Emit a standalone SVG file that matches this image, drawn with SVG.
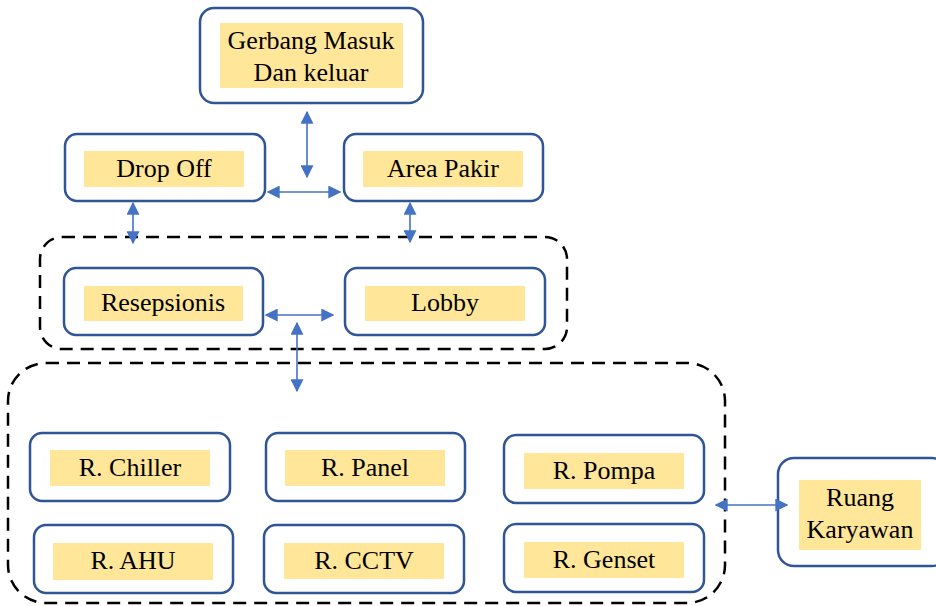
<svg xmlns="http://www.w3.org/2000/svg" width="936" height="606" viewBox="0 0 936 606">
<style>
.box{fill:#fff;stroke:#2F5597;stroke-width:2.5}
.lbl{fill:#FFE699}
.t{font-family:"Liberation Serif","Times New Roman",serif;font-size:26px;fill:#000;text-anchor:middle}
.grp{fill:none;stroke:#000;stroke-width:2.5;stroke-dasharray:13 8}
.c{stroke:#4472C4;stroke-width:1.6;fill:none;marker-start:url(#a);marker-end:url(#a)}
</style>
<defs>
<marker id="a" viewBox="0 0 10 10" refX="9" refY="5" markerWidth="13" markerHeight="13" orient="auto-start-reverse" markerUnits="userSpaceOnUse">
<path d="M0,0 L10,5 L0,10 z" fill="#4472C4"/>
</marker>
</defs>
<rect class="grp" x="40" y="237" width="527" height="112" rx="22"/>
<rect class="grp" x="8" y="363" width="717" height="240" rx="38"/>
<g id="gerbang"><rect class="box" x="200" y="8" width="223" height="95" rx="14"/><rect class="lbl" x="220" y="23" width="183" height="65"/><text class="t" x="311" y="49">Gerbang Masuk</text><text class="t" x="311" y="81">Dan keluar</text></g>
<g id="dropoff"><rect class="box" x="65" y="134" width="200" height="67" rx="12"/><rect class="lbl" x="84" y="151" width="160" height="36"/><text class="t" x="164" y="177">Drop Off</text></g>
<g id="areapakir"><rect class="box" x="344" y="134" width="199" height="67" rx="12"/><rect class="lbl" x="363" y="151" width="160" height="36"/><text class="t" x="443" y="177">Area Pakir</text></g>
<g id="resepsionis"><rect class="box" x="64" y="268" width="199" height="67" rx="12"/><rect class="lbl" x="84" y="286" width="159" height="35"/><text class="t" x="163" y="311">Resepsionis</text></g>
<g id="lobby"><rect class="box" x="345" y="268" width="200" height="67" rx="12"/><rect class="lbl" x="365" y="286" width="160" height="35"/><text class="t" x="445" y="311">Lobby</text></g>
<g id="chiller"><rect class="box" x="30" y="433" width="200" height="68" rx="12"/><rect class="lbl" x="50" y="450" width="160" height="36"/><text class="t" x="130" y="476">R. Chiller</text></g>
<g id="panel"><rect class="box" x="266" y="433" width="199" height="68" rx="12"/><rect class="lbl" x="285" y="450" width="160" height="36"/><text class="t" x="365" y="476">R. Panel</text></g>
<g id="pompa"><rect class="box" x="504" y="435" width="200" height="68" rx="12"/><rect class="lbl" x="524" y="453" width="160" height="36"/><text class="t" x="604" y="479">R. Pompa</text></g>
<g id="ahu"><rect class="box" x="34" y="525" width="199" height="68" rx="12"/><rect class="lbl" x="53" y="543" width="160" height="37"/><text class="t" x="133" y="569">R. AHU</text></g>
<g id="cctv"><rect class="box" x="264" y="525" width="200" height="68" rx="12"/><rect class="lbl" x="284" y="543" width="160" height="36"/><text class="t" x="364" y="569">R. CCTV</text></g>
<g id="genset"><rect class="box" x="504" y="524" width="200" height="68" rx="12"/><rect class="lbl" x="524" y="542" width="160" height="36"/><text class="t" x="604" y="568">R. Genset</text></g>
<g id="karyawan"><rect class="box" x="778" y="458" width="170" height="108" rx="16"/><rect class="lbl" x="799" y="480" width="122" height="70"/><text class="t" x="860" y="506">Ruang</text><text class="t" x="860" y="538">Karyawan</text></g>
<g id="connectors">
<line class="c" x1="307" y1="112" x2="307" y2="177"/>
<line class="c" x1="268" y1="192" x2="340" y2="192"/>
<line class="c" x1="133" y1="203" x2="133" y2="243"/>
<line class="c" x1="410" y1="203" x2="410" y2="242"/>
<line class="c" x1="266" y1="315" x2="333" y2="315"/>
<line class="c" x1="297" y1="323" x2="297" y2="391"/>
<line class="c" x1="716" y1="505" x2="787" y2="505"/>
</g>
</svg>
